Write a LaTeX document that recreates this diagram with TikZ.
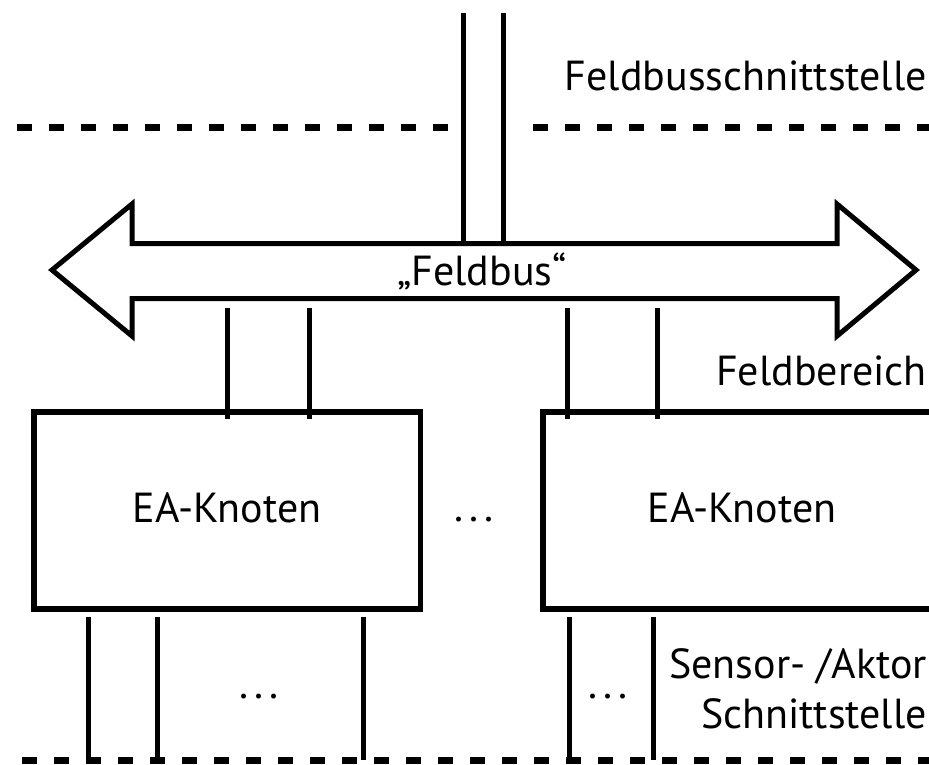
\documentclass[tikz,border=0pt]{standalone}
\usepackage{fontspec}
\setmainfont{PT Sans}
\usetikzlibrary{calc}
\newcommand{\pkte}{.\kern0.14em.\kern0.14em.}
\tikzset{
	wire/.style={line width=5pt},
	sepline/.style={line width=7pt, dash pattern=on 15pt off 17pt},
	eaknoten/.style={draw, line width=5.5pt, minimum height=197pt, inner sep=0pt},
	bereich/.style={anchor=base east, inner sep=0pt, font=\fontsize{42}{50}\selectfont},
	dots/.style={anchor=base, inner sep=0pt, font=\fontsize{42}{50}\selectfont},
}

\begin{document}
\begin{tikzpicture}[x=1pt, y=-1pt]
		%%%%% START %%%%%
		\useasboundingbox (0, 0) rectangle (929, 764);
		\clip (0, 0) rectangle (929, 764);
		
		% Trennlinien
		\draw[sepline] (17, 127) -- (455, 127);
		\draw[sepline] (533, 127) -- (940, 127);
		\draw[sepline] (22, 760) -- (940, 760);
		
		% Feldbus
		\draw[line width=5pt] (52, 270) -- (132, 204) -- (132, 243.5) -- (837, 243.5) -- (837, 204)
			-- (916, 270) -- (837, 336) -- (837, 298.5) -- (132, 298.5) -- (132, 336) -- cycle;
		\node[dots] (bus) at (482, 285) {„Feldbus“};
		\coordinate (bustop) at (482, 243.5);
		\coordinate (busbot) at (482, 298.5);
		\coordinate (ext) at (482, 13);
		
		% Knoten
		\node[eaknoten, minimum width=386.5pt] (ea1) at (227, 510.5) {};
		\node[eaknoten, minimum width=398pt] (ea2) at (742, 510.5) {};
		\node[dots] (t1) at (ea1 |- 0, 522) {EA-Knoten};
		\node[dots] (t2) at (ea2 |- 0, 522) {EA-Knoten};
		\node[dots] (d0) at (474, 521) {\pkte};
		\coordinate (s1) at (ea1 |- 0, 760);
		\coordinate (s2) at (ea2 |- 0, 760);
		
		% Anschluss Feldbusschnittstelle
		\draw[wire] ([xshift=-19pt]ext) -- ([xshift=-19pt]bustop);
		\draw[wire] ([xshift=21pt]ext) -- ([xshift=21pt]bustop);
		
		% Anschluss Knoten an Feldbus
		\draw[wire] ([yshift=-9.5pt]ea1.north) -- (ea1.north |- 0, 308);
		\draw[wire] ([xshift=82pt, yshift=-9.5pt]ea1.north) -- ([xshift=82pt]ea1.north |- 0, 308);
		\draw[wire] ([xshift=-175pt, yshift=-9.5pt]ea2.north) -- ([xshift=-175pt]ea2.north |- 0, 308);
		\draw[wire] ([xshift=-85pt, yshift=-9.5pt]ea2.north) -- ([xshift=-85pt]ea2.north |- 0, 308);
		
		% Sensoren / Aktoren
		\draw[wire] ([xshift=-139pt, yshift=-5pt]ea1.south) -- ([xshift=-139pt]s1);
		\draw[wire] ([xshift=-70pt, yshift=-5pt]ea1.south) -- ([xshift=-70pt]s1);
		\draw[wire] ([xshift=136pt, yshift=-5pt]ea1.south) -- ([xshift=136pt]s1);
		\draw[wire] ([xshift=-173pt, yshift=-5pt]ea2.south) -- ([xshift=-173pt]s2);
		\draw[wire] ([xshift=-89pt, yshift=-5pt]ea2.south) -- ([xshift=-89pt]s2);
		\node[dots] (d1) at (259, 698) {\pkte};
		\node[dots] (d2) at (608, 698) {\pkte};
		
		% Bereiche
		\node[bereich] (fbs) at (927, 90) {Feldbusschnittstelle};
		\node[bereich] (fb) at (927, 385) {Feldbereich};
		\node[bereich] (sa) at (927, 678) {Sensor- /Aktor};
		\node[bereich] (sas) at (927, 728) {Schnittstelle};
		
		%%%%% END %%%%%
\end{tikzpicture}
\end{document}
